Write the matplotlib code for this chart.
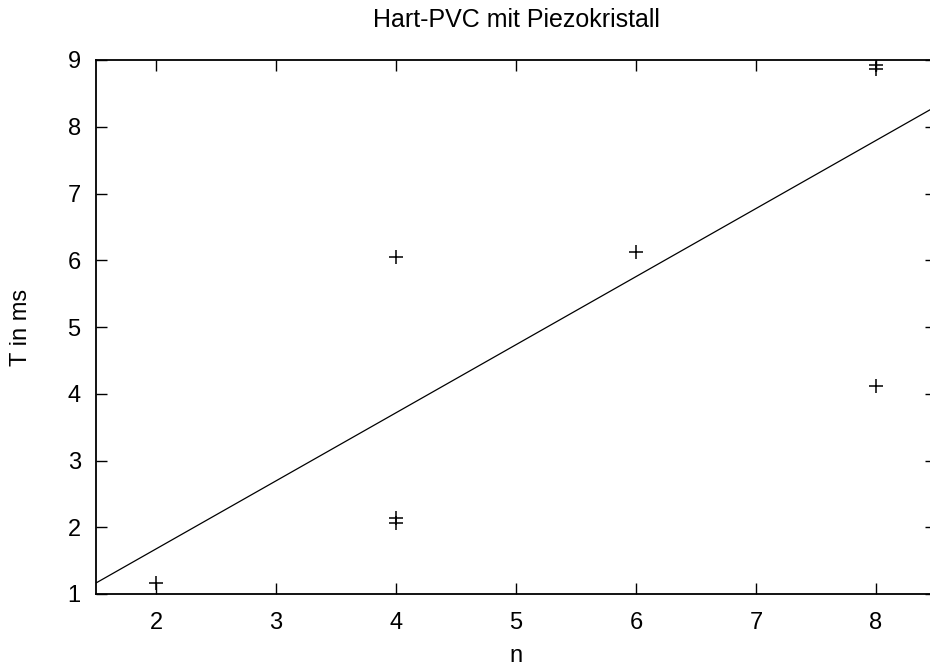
import matplotlib
matplotlib.use("Agg")
import matplotlib.pyplot as plt
import numpy as np

# measured values (n, T in ms)
n_vals = [2, 4, 4, 4, 6, 8, 8, 8]
t_vals = [1.17, 6.05, 2.14, 2.07, 6.13, 8.92, 8.86, 4.12]

# fitted line T = a * n + b
fit_a = 1.02
fit_b = -0.365

x_ticks = [2, 3, 4, 5, 6, 7, 8]
y_ticks = [1, 2, 3, 4, 5, 6, 7, 8, 9]

plt.rcParams["font.family"] = ["Liberation Sans", "DejaVu Sans"]

W, H = 930, 671
fig = plt.figure(figsize=(W / 100, H / 100), dpi=100)
# axes box in pixels: left 96, right 936 (runs past the edge), top 60, bottom 594
ax = fig.add_axes([96 / W, (H - 594) / H, 840 / W, 534 / H])

xs = np.linspace(1.5, 8.5, 50)
ax.plot(xs, fit_a * xs + fit_b, color="black", lw=0.9)
ax.plot(n_vals, t_vals, ls="none", marker="+", ms=9.5, mew=1.1, color="black")

ax.set_xlim(1.5, 8.5)
ax.set_ylim(1, 9)
ax.set_xticks(x_ticks)
ax.set_yticks(y_ticks)
ax.tick_params(direction="in", length=8, width=1.0, top=True, right=True,
               labelsize=17, colors="black")
ax.tick_params(axis="x", pad=13)
ax.tick_params(axis="y", pad=11)
for s in ax.spines.values():
    s.set_linewidth(1.3)

fig.text(516 / W, 1 - 20 / H, "Hart-PVC mit Piezokristall", ha="center",
         va="center", fontsize=18)
fig.text(21 / W, 1 - 327 / H, "T in ms", rotation=90, ha="center",
         va="center", fontsize=17)
fig.text(516 / W, 1 - 656 / H, "n", ha="center", va="center", fontsize=17)

fig.savefig("out.png", dpi=100)
